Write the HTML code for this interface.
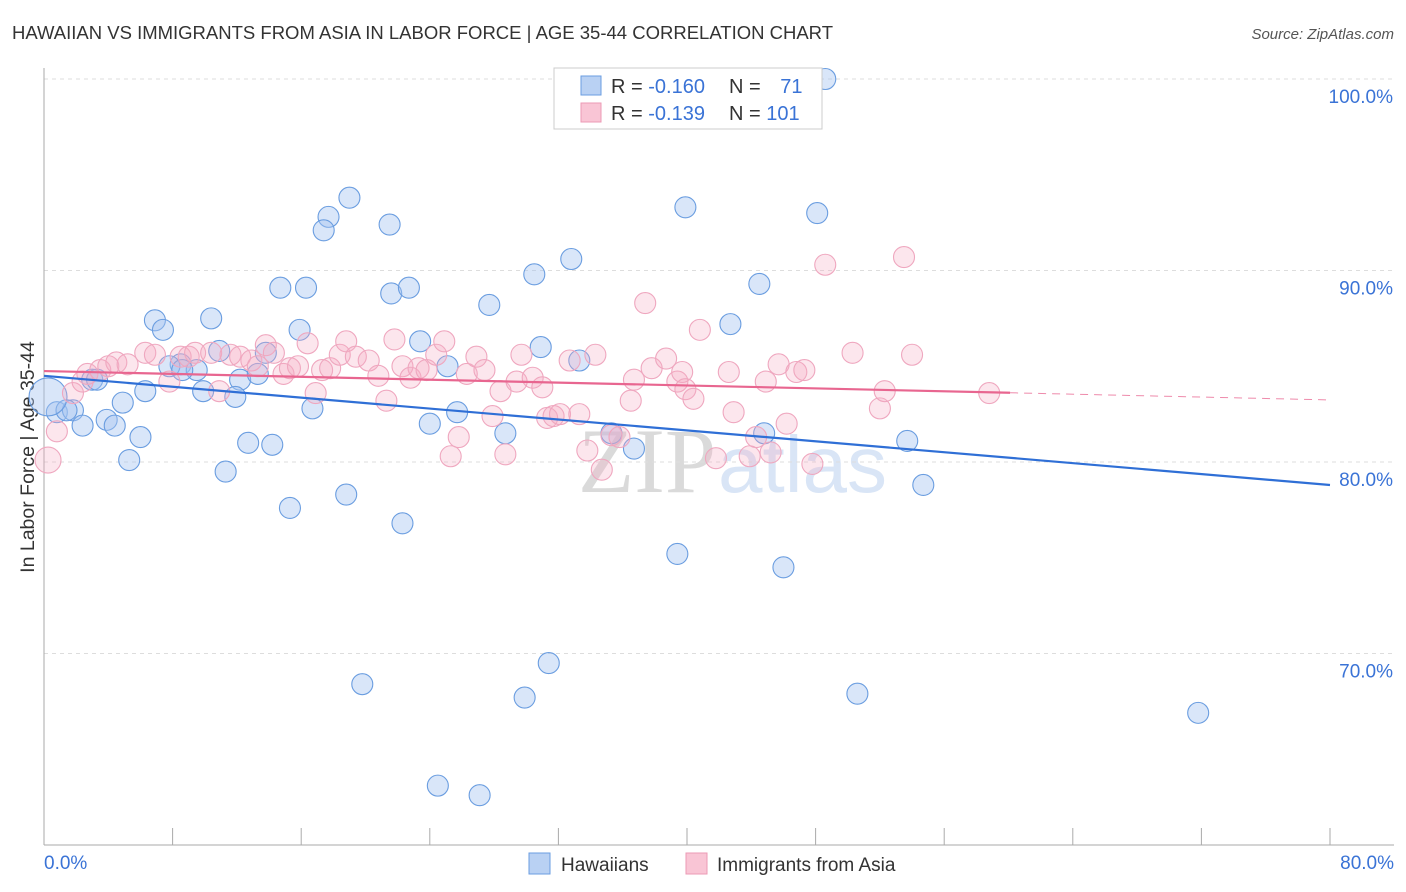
<!DOCTYPE html>
<html><head><meta charset="utf-8"><style>
body{margin:0;background:#fff;font-family:"Liberation Sans",sans-serif;}
#wrap{position:relative;width:1406px;height:892px;overflow:hidden;}
</style></head><body>
<div id="wrap">
<svg id="chart" width="1406" height="892">
<text x="12" y="39" font-size="18.5" fill="#333">HAWAIIAN VS IMMIGRANTS FROM ASIA IN LABOR FORCE | AGE 35-44 CORRELATION CHART</text>
<text x="1394" y="39" font-size="15" fill="#555" font-style="italic" text-anchor="end">Source: ZipAtlas.com</text>
<text x="0" y="0" transform="translate(34,457) rotate(-90)" font-size="19.5" fill="#333" text-anchor="middle">In Labor Force | Age 35-44</text>
<text x="716" y="492" font-size="92" fill="#dadada" text-anchor="end" font-family="Liberation Serif, serif">ZIP</text>
<text x="718" y="492" font-size="80" fill="#d9e5f6">atlas</text>
<g id="grid"></g><g id="axes"></g><g id="pts"></g><g id="lines"></g>
<g>
<rect x="554" y="68" width="268" height="61" fill="#fff" stroke="#ccc"/>
<rect x="581" y="76" width="20" height="19" fill="#b9d1f3" stroke="#6a9de0"/>
<rect x="581" y="103" width="20" height="19" fill="#f9c5d5" stroke="#ec9ab5"/>
<text x="611" y="93" font-size="20" fill="#333">R = <tspan fill="#3a73d6">-0.160</tspan></text>
<text x="729" y="93" font-size="20" fill="#333">N = <tspan fill="#3a73d6" dx="14">71</tspan></text>
<text x="611" y="120" font-size="20" fill="#333">R = <tspan fill="#3a73d6">-0.139</tspan></text>
<text x="729" y="120" font-size="20" fill="#333">N = <tspan fill="#3a73d6">101</tspan></text>
</g>
<g>
<rect x="529" y="853" width="21" height="21" fill="#b9d1f3" stroke="#6a9de0"/>
<text x="561" y="871" font-size="19" fill="#333">Hawaiians</text>
<rect x="686" y="853" width="21" height="21" fill="#f9c5d5" stroke="#ec9ab5"/>
<text x="717" y="871" font-size="19" fill="#333">Immigrants from Asia</text>
</g>
</svg>
</div>
<script>
const yTicks=[100,90,80,70];
const yTickLabels=["100.0%","90.0%","80.0%","70.0%"];
const xTicks=[0,8,16,24,32,40,48,56,64,72,80];
const xEndLabels=["0.0%","80.0%"];
const blueX=[48.6,19.0,17.7,17.4,21.5,39.9,48.1,32.8,30.5,14.7,16.3,21.6,22.7,27.7,44.5,6.9,7.4,10.4,15.9,23.4,30.9,42.7,10.9,13.8,8.5,9.5,7.8,8.6,3.0,3.3,12.2,13.3,25.1,33.3,6.3,9.9,11.9,4.9,16.7,25.7,0.8,1.8,1.4,3.9,4.4,2.4,24.0,6.0,12.7,14.2,28.7,35.3,36.7,44.8,53.7,5.3,11.3,18.8,15.3,22.3,54.7,39.4,46.0,31.4,19.8,29.9,50.6,71.8,24.5,27.1,0.25];
const blueY=[100,93.8,92.8,92.1,92.4,93.3,93.0,90.6,89.8,89.1,89.1,88.8,89.1,88.2,89.3,87.4,86.9,87.5,86.9,86.3,86.0,87.2,85.8,85.7,85.1,84.8,85.0,84.8,84.3,84.3,84.3,84.6,85.0,85.3,83.7,83.7,83.4,83.1,82.8,82.6,82.6,82.7,82.7,82.2,81.9,81.9,82.0,81.3,81.0,80.9,81.5,81.5,80.7,81.5,81.1,80.1,79.5,78.3,77.6,76.8,78.8,75.2,74.5,69.5,68.4,67.7,67.9,66.9,63.1,62.6,83.4];
const pinkX=[0.25,0.8,1.8,2.4,2.7,3.5,4.0,4.5,5.2,6.3,6.9,7.8,8.5,9.0,9.4,10.4,10.9,11.6,12.2,12.9,13.3,13.8,14.3,14.9,15.3,15.8,16.4,16.9,17.3,17.8,18.4,18.8,19.4,20.2,20.8,21.3,21.8,22.3,22.8,23.3,23.8,24.4,24.9,25.3,25.8,26.3,26.9,27.4,27.9,28.4,28.7,29.4,29.7,30.4,31.0,31.3,31.7,32.1,32.7,33.3,33.8,34.3,34.7,35.3,35.8,36.5,36.7,37.4,37.8,38.7,39.4,39.7,39.9,40.4,40.8,41.8,42.6,42.9,43.9,44.3,44.9,45.2,45.7,46.2,46.8,47.3,47.8,48.6,50.3,52.0,52.3,53.5,54.0,58.8];
const pinkY=[80.1,81.6,83.6,84.2,84.6,84.8,85.0,85.2,85.1,85.7,85.6,84.2,85.5,85.5,85.7,85.7,83.7,85.6,85.5,85.3,85.0,86.1,85.7,84.6,84.9,85.0,86.2,83.6,84.8,84.9,85.6,86.3,85.5,85.3,84.5,83.2,86.4,85.0,84.4,84.9,84.8,85.6,86.3,80.3,81.3,84.6,85.5,84.8,82.4,83.7,80.4,84.2,85.6,84.4,83.9,82.3,82.4,82.5,85.3,82.5,80.6,85.6,79.6,81.4,81.3,83.2,84.3,88.3,84.9,85.4,84.2,84.7,83.8,83.3,86.9,80.2,84.7,82.6,80.3,81.3,84.2,80.5,85.1,82.0,84.7,84.8,79.9,90.3,85.7,82.8,83.7,90.7,85.6,83.6];
const blueTrend=[84.5,78.8];
const pinkTrend=[84.75,83.24];
const pinkSolidEnd=60.1;

const NS="http://www.w3.org/2000/svg";
const X=v=>44+v*16.075;
const Y=v=>79+(100-v)*19.15;
function mk(tag,attrs,parent){const e=document.createElementNS(NS,tag);for(const k in attrs)e.setAttribute(k,attrs[k]);parent.appendChild(e);return e;}
const grid=document.getElementById('grid'),axes=document.getElementById('axes'),pts=document.getElementById('pts'),lines=document.getElementById('lines');
yTicks.forEach((t,i)=>{
 const l=mk('line',{x1:44,x2:1394,y1:Y(t),y2:Y(t),stroke:'#ddd','stroke-dasharray':'4,4'},grid);
 
 
 const tx=mk('text',{x:1393,y:Y(t)+24,'font-size':19,fill:'#3a73d6','text-anchor':'end'},axes);
 tx.textContent=yTickLabels[i];
 
 
});
const ax=mk('line',{x1:44,x2:44,y1:68,y2:845,stroke:'#aaa'},axes);


const bx=mk('line',{x1:44,x2:1394,y1:845,y2:845,stroke:'#aaa'},axes);


xTicks.forEach(t=>{
 const tk=mk('line',{x1:X(t),x2:X(t),y1:828,y2:845,stroke:'#aaa'},axes);
 
 
});
const xl0=mk('text',{x:44,y:869,'font-size':19,fill:'#3a73d6'},axes);xl0.textContent=xEndLabels[0];


const xl1=mk('text',{x:1394,y:869,'font-size':19,fill:'#3a73d6','text-anchor':'end'},axes);xl1.textContent=xEndLabels[1];


blueX.forEach((v,i)=>{
 const big=i===blueX.length-1;
 const c=mk('circle',{cx:X(v),cy:Y(blueY[i]),r:big?19:10.5,fill:'rgba(164,196,240,0.42)',stroke:'#6a9de0','stroke-width':1.1},pts);
 
 
});
pinkX.forEach((v,i)=>{
 const c=mk('circle',{cx:X(v),cy:Y(pinkY[i]),r:i===0?13:10.5,fill:'rgba(246,172,197,0.3)',stroke:'#efa7bf','stroke-width':1.1},pts);
 
 
});
const bl=mk('line',{x1:X(0),y1:Y(blueTrend[0]),x2:X(80),y2:Y(blueTrend[1]),stroke:'#2f6fd6','stroke-width':2.2},lines);


const pm=pinkTrend[0]+(pinkTrend[1]-pinkTrend[0])*pinkSolidEnd/80;
const pl=mk('line',{x1:X(0),y1:Y(pinkTrend[0]),x2:X(pinkSolidEnd),y2:Y(pm),stroke:'#e86690','stroke-width':2.2},lines);


const pd=mk('line',{x1:X(pinkSolidEnd),y1:Y(pm),x2:X(80),y2:Y(pinkTrend[1]),stroke:'#ee8aab','stroke-width':1,'stroke-dasharray':'8,6'},lines);


</script>
</body></html>
